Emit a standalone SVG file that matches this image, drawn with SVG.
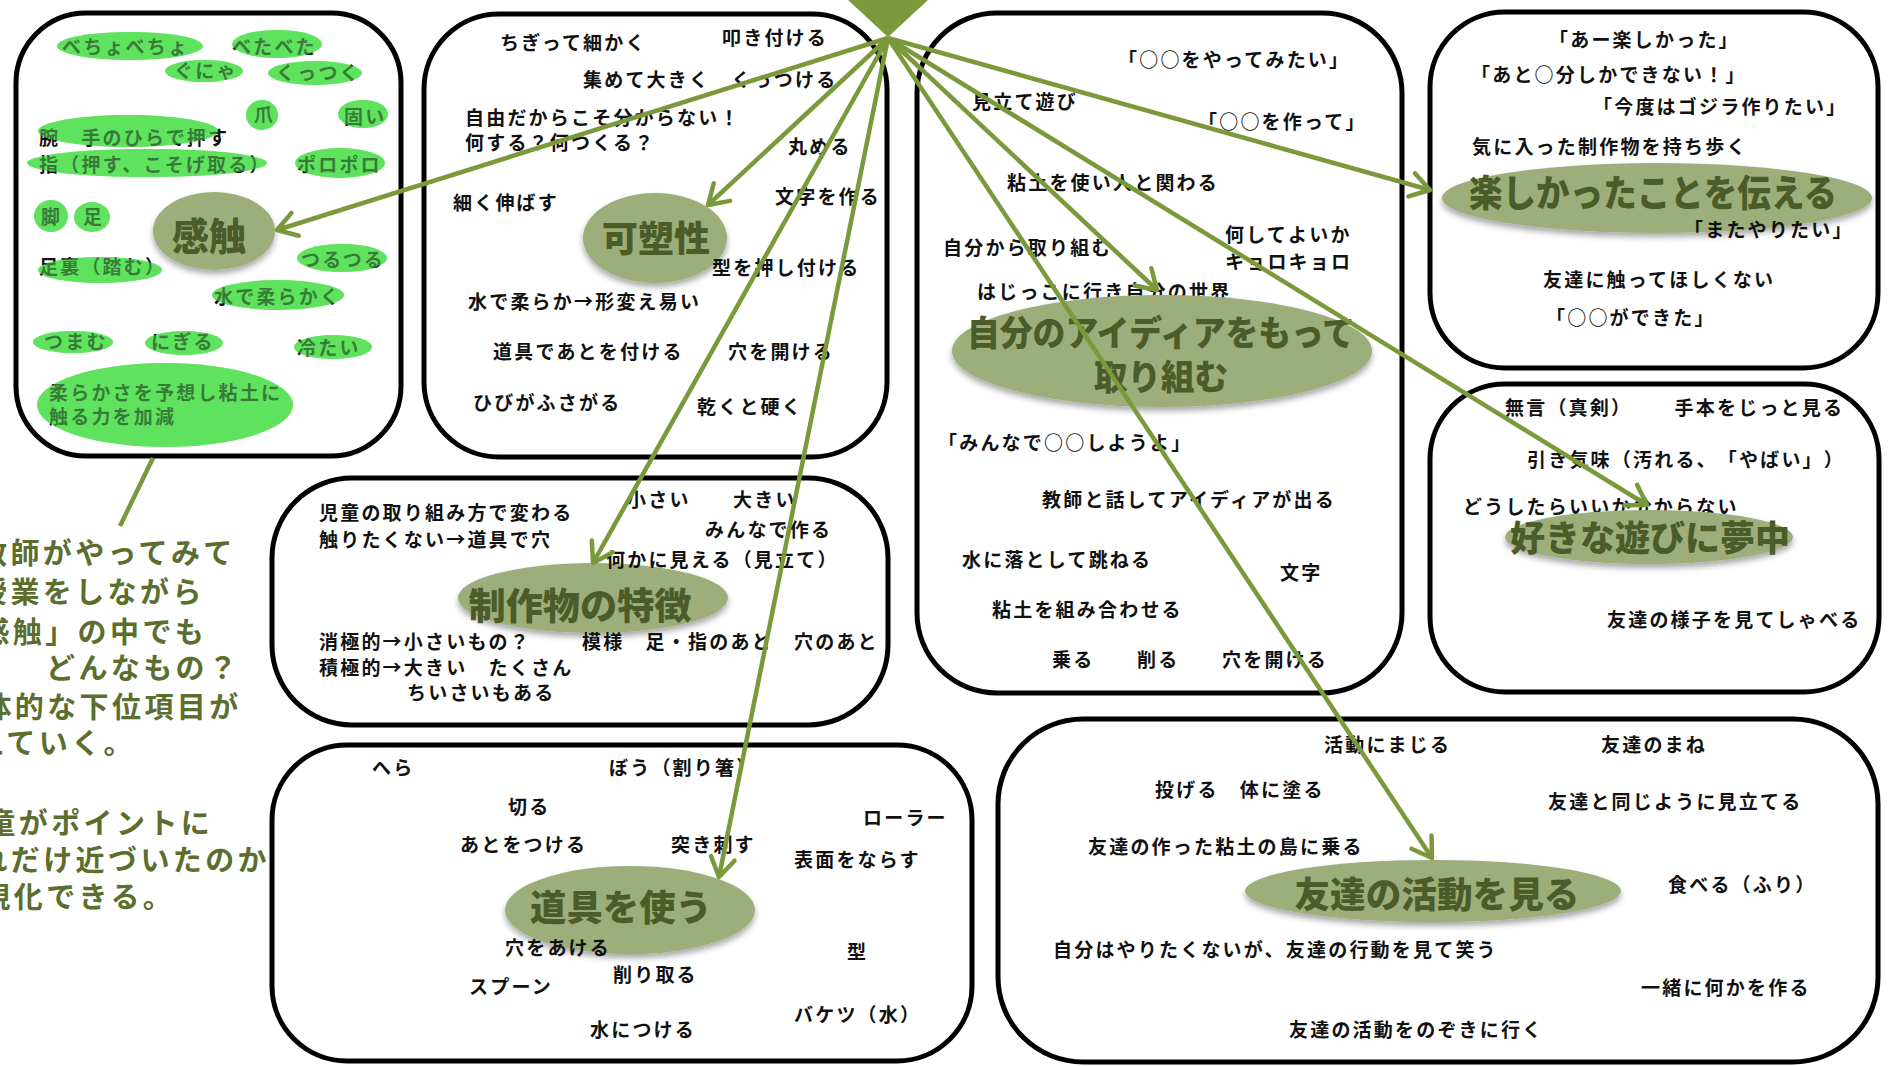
<svg xmlns="http://www.w3.org/2000/svg" xmlns:xlink="http://www.w3.org/1999/xlink" width="1894" height="1066" viewBox="0 0 1894 1066">
<style>
.box{fill:#fff;stroke:#000;stroke-width:5}
.t{font-family:'Noto Sans CJK JP','Noto Sans',sans-serif;font-size:19px;font-weight:700;letter-spacing:2.2px;fill:#111;text-spacing-trim:space-all}
.pill{fill:#5fe35f}
.hub{fill:#9cae79;filter:url(#sh)}
.ht{font-family:'Noto Sans CJK JP',sans-serif;font-weight:900;fill:#4b5c28;text-anchor:middle}
.lt{font-family:'Noto Sans CJK JP',sans-serif;font-size:29px;font-weight:700;letter-spacing:3.4px;fill:#5b6e2e;text-spacing-trim:space-all}
.con{stroke:#7a993a;stroke-width:4.5;fill:none;marker-end:url(#ah)}
</style>
<defs>
<filter id="sh" x="-20%" y="-30%" width="140%" height="170%">
<feGaussianBlur in="SourceAlpha" stdDeviation="3"/>
<feOffset dy="4" result="b"/>
<feComponentTransfer><feFuncA type="linear" slope="0.35"/></feComponentTransfer>
<feMerge><feMergeNode/><feMergeNode in="SourceGraphic"/></feMerge>
</filter>
<marker id="ah" markerUnits="userSpaceOnUse" markerWidth="32" markerHeight="32" viewBox="-26 -16 32 32" refX="0" refY="0" orient="auto">
<path d="M-19,-12 L0,0 L-19,12" fill="none" stroke="#7a993a" stroke-width="4.5" stroke-linecap="round" stroke-linejoin="round"/>
</marker>
</defs>
<rect width="1894" height="1066" fill="#fff"/>

<g id="node-kanshoku">
<rect class="box" x="16" y="13" width="385" height="443" rx="70"/>
<g id="pills">
<ellipse class="pill" cx="130" cy="46" rx="73" ry="14"/>
<ellipse class="pill" cx="277" cy="44" rx="45" ry="14"/>
<ellipse class="pill" cx="204" cy="71" rx="39" ry="11"/>
<ellipse class="pill" cx="315" cy="73" rx="47" ry="12"/>
<ellipse class="pill" cx="262" cy="115" rx="16" ry="15"/>
<ellipse class="pill" cx="363" cy="114" rx="25" ry="14"/>
<ellipse class="pill" cx="128" cy="131" rx="90" ry="16"/>
<ellipse class="pill" cx="147" cy="163" rx="120" ry="14"/>
<ellipse class="pill" cx="340" cy="163" rx="45" ry="15"/>
<ellipse class="pill" cx="51" cy="216" rx="17" ry="16"/>
<ellipse class="pill" cx="92" cy="217" rx="18" ry="15"/>
<ellipse class="pill" cx="100" cy="270" rx="62" ry="13"/>
<ellipse class="pill" cx="342" cy="258" rx="45" ry="14"/>
<ellipse class="pill" cx="278" cy="295" rx="66" ry="15"/>
<ellipse class="pill" cx="73" cy="342" rx="40" ry="11"/>
<ellipse class="pill" cx="184" cy="343" rx="39" ry="12"/>
<ellipse class="pill" cx="333" cy="347" rx="39" ry="12"/>
<ellipse class="pill" cx="165" cy="405" rx="128" ry="42"/>
</g>
<text class="t" x="62" y="54">べちょべちょ</text>
<text class="t" x="232" y="54">べたべた</text>
<text class="t" x="174" y="78">ぐにゃ</text>
<text class="t" x="276" y="80">くっつく</text>
<text class="t" x="254" y="122">爪</text>
<text class="t" x="344" y="124">固い</text>
<text class="t" x="39" y="145">腕　手のひらで押す</text>
<text class="t" x="39" y="172">指（押す、こそげ取る）</text>
<text class="t" x="297" y="172">ポロポロ</text>
<text class="t" x="41" y="224">脚</text>
<text class="t" x="83" y="224">足</text>
<text class="t" x="39" y="274">足裏（踏む）</text>
<text class="t" x="301" y="267">つるつる</text>
<text class="t" x="214" y="304">水で柔らかく</text>
<text class="t" x="44" y="349">つまむ</text>
<text class="t" x="151" y="349">にぎる</text>
<text class="t" x="297" y="355">冷たい</text>
<text class="t" x="49" y="400">柔らかさを予想し粘土に</text>
<text class="t" x="49" y="424">触る力を加減</text>
<use xlink:href="#pills" href="#pills" opacity="0.5"/>
<ellipse class="hub" cx="214" cy="231" rx="61" ry="39"/>
<text class="ht" x="209" y="250" font-size="38" textLength="74" lengthAdjust="spacingAndGlyphs">感触</text>
</g>

<g id="note">
<line x1="153" y1="458" x2="120" y2="526" stroke="#7a993a" stroke-width="4.5"/>
<text class="lt" x="-22" y="564">教師がやってみて</text>
<text class="lt" x="-22" y="603">授業をしながら</text>
<text class="lt" x="-52" y="643">「感触」の中でも</text>
<text class="lt" x="46" y="679">どんなもの？</text>
<text class="lt" x="-50" y="718">具体的な下位項目が</text>
<text class="lt" x="-57" y="754">増えていく。</text>
<text class="lt" x="-46" y="834">児童がポイントに</text>
<text class="lt" x="-54" y="871">どれだけ近づいたのか</text>
<text class="lt" x="-51" y="908">可視化できる。</text>
</g>

<g id="node-kasosei">
<rect class="box" x="424" y="14" width="463" height="443" rx="75"/>
<ellipse class="hub" cx="655" cy="238" rx="72" ry="45"/>
<text class="ht" x="656" y="252" font-size="36" textLength="108" lengthAdjust="spacingAndGlyphs">可塑性</text>
<text class="t" x="500" y="50">ちぎって細かく</text>
<text class="t" x="722" y="45">叩き付ける</text>
<text class="t" x="583" y="87">集めて大きく　くっつける</text>
<text class="t" x="465" y="125">自由だからこそ分からない！</text>
<text class="t" x="465" y="150">何する？何つくる？</text>
<text class="t" x="788" y="154">丸める</text>
<text class="t" x="453" y="210">細く伸ばす</text>
<text class="t" x="775" y="204">文字を作る</text>
<text class="t" x="712" y="275">型を押し付ける</text>
<text class="t" x="468" y="309">水で柔らか→形変え易い</text>
<text class="t" x="493" y="359">道具であとを付ける</text>
<text class="t" x="728" y="359">穴を開ける</text>
<text class="t" x="473" y="410">ひびがふさがる</text>
<text class="t" x="697" y="414">乾くと硬く</text>
</g>

<g id="node-idea">
<rect class="box" x="917" y="13" width="485" height="680" rx="80"/>
<text class="t" x="1118" y="67">「○○をやってみたい」</text>
<text class="t" x="972" y="109">見立て遊び</text>
<text class="t" x="1198" y="129">「○○を作って」</text>
<text class="t" x="1007" y="190">粘土を使い人と関わる</text>
<text class="t" x="943" y="255">自分から取り組む</text>
<text class="t" x="1225" y="242">何してよいか</text>
<text class="t" x="1225" y="269">キョロキョロ</text>
<text class="t" x="977" y="299">はじっこに行き自分の世界</text>
<ellipse class="hub" cx="1162" cy="351" rx="210" ry="56"/>
<text class="ht" x="1161" y="346" font-size="35" textLength="388" lengthAdjust="spacingAndGlyphs">自分のアイディアをもって</text>
<text class="ht" x="1161" y="390" font-size="35" textLength="134" lengthAdjust="spacingAndGlyphs">取り組む</text>
<text class="t" x="938" y="450">「みんなで○○しようよ」</text>
<text class="t" x="1042" y="507">教師と話してアイディアが出る</text>
<text class="t" x="962" y="567">水に落として跳ねる</text>
<text class="t" x="1280" y="580">文字</text>
<text class="t" x="992" y="617">粘土を組み合わせる</text>
<text class="t" x="1052" y="667">乗る</text>
<text class="t" x="1137" y="667">削る</text>
<text class="t" x="1222" y="667">穴を開ける</text>
</g>

<g id="node-tanoshii">
<rect class="box" x="1430" y="12" width="448" height="356" rx="75"/>
<text class="t" x="1549" y="47">「あー楽しかった」</text>
<text class="t" x="1471" y="82">「あと○分しかできない！」</text>
<text class="t" x="1593" y="114">「今度はゴジラ作りたい」</text>
<text class="t" x="1472" y="154">気に入った制作物を持ち歩く</text>
<ellipse class="hub" cx="1657" cy="198" rx="215" ry="35"/>
<text class="ht" x="1653" y="207" font-size="37" textLength="368" lengthAdjust="spacingAndGlyphs">楽しかったことを伝える</text>
<text class="t" x="1684" y="237">「またやりたい」</text>
<text class="t" x="1543" y="287">友達に触ってほしくない</text>
<text class="t" x="1546" y="325">「○○ができた」</text>
</g>

<g id="node-muchu">
<rect class="box" x="1430" y="384" width="449" height="308" rx="75"/>
<text class="t" x="1505" y="415">無言（真剣）　　手本をじっと見る</text>
<text class="t" x="1527" y="467">引き気味（汚れる、「やばい」）</text>
<text class="t" x="1463" y="514">どうしたらいいか分からない</text>
<ellipse class="hub" cx="1649" cy="537" rx="144" ry="27"/>
<text class="ht" x="1650" y="551" font-size="35" textLength="280" lengthAdjust="spacingAndGlyphs">好きな遊びに夢中</text>
<text class="t" x="1607" y="627">友達の様子を見てしゃべる</text>
</g>

<g id="node-seisakubutsu">
<rect class="box" x="272" y="478" width="616" height="247" rx="80"/>
<ellipse class="hub" cx="593" cy="598" rx="135" ry="35"/>
<text class="ht" x="580" y="620" font-size="37" textLength="223" lengthAdjust="spacingAndGlyphs">制作物の特徴</text>
<text class="t" x="319" y="520">児童の取り組み方で変わる</text>
<text class="t" x="319" y="547">触りたくない→道具で穴</text>
<text class="t" x="627" y="507">小さい　　大きい</text>
<text class="t" x="705" y="537">みんなで作る</text>
<text class="t" x="606" y="567">何かに見える（見立て）</text>
<text class="t" x="319" y="649">消極的→小さいもの？</text>
<text class="t" x="582" y="649">模様　足・指のあと　穴のあと</text>
<text class="t" x="319" y="675">積極的→大きい　たくさん</text>
<text class="t" x="407" y="700">ちいさいもある</text>
</g>

<g id="node-dougu">
<rect class="box" x="272" y="745" width="700" height="316" rx="75"/>
<ellipse class="hub" cx="630" cy="910" rx="125" ry="44"/>
<text class="ht" x="621" y="921" font-size="36" textLength="182" lengthAdjust="spacingAndGlyphs">道具を使う</text>
<text class="t" x="372" y="775">へら</text>
<text class="t" x="609" y="775">ぼう（割り箸）</text>
<text class="t" x="508" y="814">切る</text>
<text class="t" x="863" y="825">ローラー</text>
<text class="t" x="460" y="852">あとをつける</text>
<text class="t" x="671" y="852">突き刺す</text>
<text class="t" x="794" y="867">表面をならす</text>
<text class="t" x="505" y="955">穴をあける</text>
<text class="t" x="847" y="959">型</text>
<text class="t" x="613" y="982">削り取る</text>
<text class="t" x="469" y="994">スプーン</text>
<text class="t" x="794" y="1022">バケツ（水）</text>
<text class="t" x="590" y="1037">水につける</text>
</g>

<g id="node-tomodachi">
<rect class="box" x="998" y="719" width="880" height="343" rx="85"/>
<ellipse class="hub" cx="1433" cy="891" rx="188" ry="31"/>
<text class="ht" x="1437" y="908" font-size="36" textLength="285" lengthAdjust="spacingAndGlyphs">友達の活動を見る</text>
<text class="t" x="1324" y="752">活動にまじる</text>
<text class="t" x="1601" y="752">友達のまね</text>
<text class="t" x="1155" y="797">投げる　体に塗る</text>
<text class="t" x="1548" y="809">友達と同じように見立てる</text>
<text class="t" x="1088" y="854">友達の作った粘土の島に乗る</text>
<text class="t" x="1668" y="892">食べる（ふり）</text>
<text class="t" x="1053" y="957">自分はやりたくないが、友達の行動を見て笑う</text>
<text class="t" x="1641" y="995">一緒に何かを作る</text>
<text class="t" x="1289" y="1037">友達の活動をのぞきに行く</text>
</g>

<g id="hub-source">
<polygon points="848,0 928,0 888,37" fill="#7a9a3c"/>
</g>

<g id="connectors">
<line class="con" x1="888" y1="38" x2="277" y2="230"/>
<line class="con" x1="888" y1="38" x2="708" y2="205"/>
<line class="con" x1="888" y1="38" x2="593" y2="563"/>
<line class="con" x1="888" y1="38" x2="719" y2="877"/>
<line class="con" x1="888" y1="38" x2="1157" y2="290"/>
<line class="con" x1="888" y1="38" x2="1432" y2="858"/>
<line class="con" x1="888" y1="38" x2="1430" y2="190"/>
<line class="con" x1="888" y1="38" x2="1647" y2="505"/>
</g>
</svg>
